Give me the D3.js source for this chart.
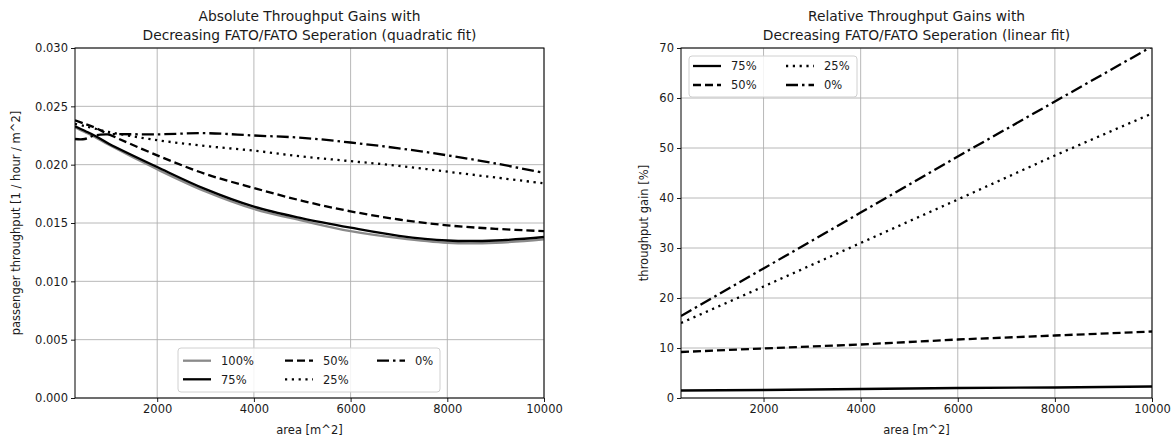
<!DOCTYPE html>
<html><head><meta charset="utf-8">
<script src="https://cdn.jsdelivr.net/npm/d3@7"></script>
<style>
body{margin:0;background:#fff;}
svg{display:block;font-family:"DejaVu Sans",sans-serif;}
</style></head>
<body><svg id="chart" width="1174" height="438"></svg>
<script>
// ---- data ----
const areaAbs = [300, 500, 700, 1000, 2000, 3000, 4000, 5000, 6000, 7000, 8000, 9000, 10000];
const abs100 = [0.0232, 0.0228, 0.0224, 0.0217, 0.0196, 0.0177, 0.0162, 0.0152, 0.0143, 0.0137, 0.0133, 0.0133, 0.0136];
const abs75  = [0.0233, 0.0229, 0.0225, 0.0218, 0.0198, 0.0179, 0.0164, 0.0154, 0.0146, 0.0139, 0.0135, 0.0135, 0.0138];
const abs50  = [0.0238, 0.0235, 0.0232, 0.0226, 0.0208, 0.0192, 0.0180, 0.0169, 0.0160, 0.0153, 0.0148, 0.0145, 0.0143];
const abs25  = [0.0235, 0.0233, 0.0231, 0.0228, 0.0221, 0.0216, 0.0212, 0.0207, 0.0203, 0.0199, 0.0194, 0.0189, 0.0184];
const abs0   = [0.0222, 0.0222, 0.0225, 0.0226, 0.0226, 0.0227, 0.0225, 0.0223, 0.0219, 0.0214, 0.0208, 0.0201, 0.0193];

const areaRel = [300, 2000, 4000, 6000, 8000, 10000];
const rel75 = [1.5, 1.6, 1.8, 2.0, 2.1, 2.3];
const rel50 = [9.2, 9.9, 10.7, 11.7, 12.5, 13.3];
const rel25 = [15.0, 22.3, 31.0, 39.7, 48.5, 56.9];
const rel0  = [16.4, 25.9, 37.1, 48.3, 59.3, 70.3];

const xTicks = [2000, 4000, 6000, 8000, 10000];
const yTicksAbs = [0, 0.005, 0.010, 0.015, 0.020, 0.025, 0.030];
const yTicksRel = [0, 10, 20, 30, 40, 50, 60, 70];

const absLabels = ["100%", "75%", "50%", "25%", "0%"];
const relLabels = ["75%", "50%", "25%", "0%"];

// ---- styles ----
const styles = {
  "100%": {color: "#8a8a8a", dash: null},
  "75%":  {color: "#000", dash: null},
  "50%":  {color: "#000", dash: "8,4"},
  "25%":  {color: "#000", dash: "2.2,4.6"},
  "0%":   {color: "#000", dash: "12,4,2.5,4"}
};
const LW = 2.3;

const svg = d3.select("#chart");

function panel(opts) {
  const {left, right, top, bottom, xDomain, yDomain, yTicks, yFmt, titles, ylabel, ylabelX, series, xs, curve, legend, id} = opts;
  const x = d3.scaleLinear().domain(xDomain).range([left, right]);
  const y = d3.scaleLinear().domain(yDomain).range([bottom, top]);
  const g = svg.append("g");

  g.append("clipPath").attr("id", id).append("rect")
    .attr("x", left).attr("y", top).attr("width", right - left).attr("height", bottom - top);

  // grid
  g.append("g").selectAll("line").data(xTicks).join("line")
    .attr("x1", d => x(d)).attr("x2", d => x(d)).attr("y1", top).attr("y2", bottom)
    .attr("stroke", "#b0b0b0").attr("stroke-width", 0.9);
  g.append("g").selectAll("line").data(yTicks).join("line")
    .attr("x1", left).attr("x2", right).attr("y1", d => y(d)).attr("y2", d => y(d))
    .attr("stroke", "#b0b0b0").attr("stroke-width", 0.9);

  // lines
  const lg = g.append("g").attr("clip-path", `url(#${id})`);
  series.forEach(s => {
    const st = styles[s.label];
    const line = d3.line().x((d, i) => x(xs[i])).y(d => y(d)).curve(curve);
    lg.append("path").datum(s.values).attr("d", line)
      .attr("fill", "none").attr("stroke", st.color).attr("stroke-width", LW)
      .attr("stroke-dasharray", st.dash).attr("stroke-linecap", "butt");
  });

  // axes
  const xAxis = d3.axisBottom(x).tickValues(xTicks).tickSize(4).tickPadding(3).tickFormat(d3.format("d"));
  const yAxis = d3.axisLeft(y).tickValues(yTicks).tickSize(4).tickPadding(3).tickFormat(yFmt);
  const gx = g.append("g").attr("transform", `translate(0,${bottom})`).call(xAxis);
  const gy = g.append("g").attr("transform", `translate(${left},0)`).call(yAxis);
  [gx, gy].forEach(a => {
    a.select(".domain").remove();
    a.selectAll("text").attr("font-size", 11.5).attr("fill", "#1a1a1a").attr("font-family", "DejaVu Sans");
    a.selectAll("line").attr("stroke", "#000").attr("stroke-width", 0.9);
  });
  // frame
  g.append("rect").attr("x", left).attr("y", top).attr("width", right - left).attr("height", bottom - top)
    .attr("fill", "none").attr("stroke", "#000").attr("stroke-width", 1);

  // titles
  const cx = (left + right) / 2;
  g.append("text").attr("x", cx).attr("y", 21).attr("text-anchor", "middle").attr("font-size", 13.8).attr("fill", "#1a1a1a").text(titles[0]);
  g.append("text").attr("x", cx).attr("y", 39.5).attr("text-anchor", "middle").attr("font-size", 13.8).attr("fill", "#1a1a1a").text(titles[1]);
  g.append("text").attr("x", cx).attr("y", 434).attr("text-anchor", "middle").attr("font-size", 11.5).attr("fill", "#1a1a1a").text("area [m^2]");
  g.append("text").attr("transform", `translate(${ylabelX},${(top + bottom) / 2}) rotate(-90)`)
    .attr("text-anchor", "middle").attr("font-size", 11.5).attr("fill", "#1a1a1a").text(ylabel);

  // legend
  const L = legend;
  g.append("rect").attr("x", L.x).attr("y", L.y).attr("width", L.w).attr("height", L.h).attr("rx", 3)
    .attr("fill", "rgba(255,255,255,0.85)").attr("stroke", "#d0d0d0").attr("stroke-width", 1);
  L.items.forEach(it => {
    const st = styles[it.label];
    g.append("line").attr("x1", it.x).attr("x2", it.x + 28).attr("y1", it.y).attr("y2", it.y)
      .attr("stroke", st.color).attr("stroke-width", LW).attr("stroke-dasharray", st.dash);
    g.append("text").attr("x", it.x + 38).attr("y", it.y + 4.2).attr("font-size", 11.5).attr("fill", "#1a1a1a").text(it.label);
  });
}

panel({
  id: "clipA", left: 75, right: 544, top: 48, bottom: 398,
  xDomain: [300, 10000], yDomain: [0, 0.030], yTicks: yTicksAbs, yFmt: d3.format(".3f"),
  titles: ["Absolute Throughput Gains with", "Decreasing FATO/FATO Seperation (quadratic fit)"],
  ylabel: "passenger throughput [1 / hour / m^2]", ylabelX: 20,
  xs: areaAbs, curve: d3.curveCatmullRom.alpha(0.5),
  series: [
    {label: absLabels[0], values: abs100},
    {label: absLabels[1], values: abs75},
    {label: absLabels[2], values: abs50},
    {label: absLabels[3], values: abs25},
    {label: absLabels[4], values: abs0}
  ],
  legend: {x: 178, y: 348, w: 262, h: 44, items: [
    {label: absLabels[0], x: 183, y: 360.7},
    {label: absLabels[1], x: 183, y: 379.3},
    {label: absLabels[2], x: 285, y: 360.7},
    {label: absLabels[3], x: 285, y: 379.3},
    {label: absLabels[4], x: 377, y: 360.7}
  ]}
});

panel({
  id: "clipB", left: 681, right: 1152, top: 48, bottom: 398,
  xDomain: [300, 10000], yDomain: [0, 70], yTicks: yTicksRel, yFmt: d3.format("d"),
  titles: ["Relative Throughput Gains with", "Decreasing FATO/FATO Seperation (linear fit)"],
  ylabel: "throughput gain [%]", ylabelX: 648,
  xs: areaRel, curve: d3.curveLinear,
  series: [
    {label: relLabels[0], values: rel75},
    {label: relLabels[1], values: rel50},
    {label: relLabels[2], values: rel25},
    {label: relLabels[3], values: rel0}
  ],
  legend: {x: 689, y: 56, w: 168, h: 41, items: [
    {label: relLabels[0], x: 693, y: 66},
    {label: relLabels[1], x: 693, y: 85},
    {label: relLabels[2], x: 786, y: 66},
    {label: relLabels[3], x: 786, y: 85}
  ]}
});
</script></body></html>
